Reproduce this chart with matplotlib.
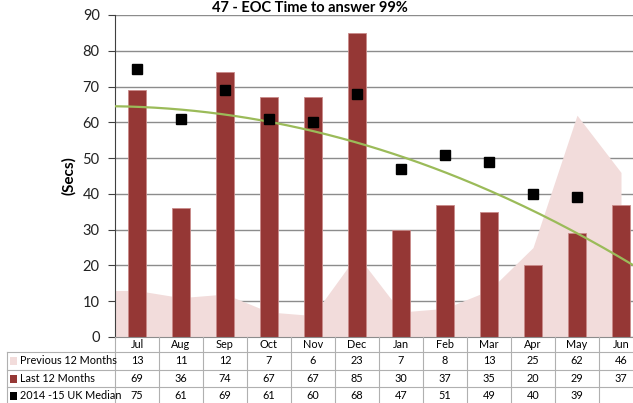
import numpy as np
import matplotlib
matplotlib.use("Agg")
import matplotlib.pyplot as plt
from matplotlib.lines import Line2D
from matplotlib.patches import Rectangle
from matplotlib.transforms import blended_transform_factory

plt.rcParams['font.family'] = ['Lato', 'DejaVu Sans']

months = ["Jul", "Aug", "Sep", "Oct", "Nov", "Dec", "Jan", "Feb", "Mar", "Apr", "May", "Jun"]
previous_12 = [13, 11, 12, 7, 6, 23, 7, 8, 13, 25, 62, 46]
last_12 = [69, 36, 74, 67, 67, 85, 30, 37, 35, 20, 29, 37]
uk_median = [75, 61, 69, 61, 60, 68, 47, 51, 49, 40, 39, None]

series_names = ["Previous 12 Months", "Last 12 Months", "2014 -15 UK Median"]
title = "47 - EOC Time to answer 99%"

area_color = "#F2DCDB"
bar_color = "#953735"
trend_color = "#9BBB59"
grid_color = "#8C8C8C"
table_line = "#B0B0B0"

W, H = 633, 403
fig = plt.figure(figsize=(W / 100, H / 100), dpi=100)


def fy(py):
    return 1 - py / H


def fx(px):
    return px / W


ax = fig.add_axes([fx(115), fy(337), 528 / W, (337 - 15) / H])
x = np.arange(len(months))
ax.set_xlim(-0.5, len(months) - 0.5)
ax.set_ylim(0, 90)

# area series: flat from the plot edge to the first category, then point to point
xl = ax.get_xlim()
ax_area_x = np.concatenate([[xl[0]], x])
ax_area_y = np.concatenate([[previous_12[0]], previous_12])
ax.fill_between(ax_area_x, 0, ax_area_y, color=area_color, linewidth=0, zorder=1)

ax.bar(x, last_12, width=0.41, color=bar_color, edgecolor="#C98B8A", linewidth=0.6, zorder=2)

# quadratic trendline of the last 12 months, spanning the full axis
coef = np.polyfit(x, last_12, 2)
tx = np.linspace(xl[0], xl[1], 200)
ax.plot(tx, np.polyval(coef, tx), color=trend_color, linewidth=1.6, zorder=3)

mx = [i for i, v in enumerate(uk_median) if v is not None]
my = [v for v in uk_median if v is not None]
ax.plot(mx, my, linestyle="none", marker="s", markersize=7.5, color="black", zorder=4)

ax.set_yticks(np.arange(0, 91, 10))
ax.yaxis.grid(True, color=grid_color, linewidth=1.0)
ax.set_axisbelow(True)
ax.set_xticks([])
for s in ["top", "right"]:
    ax.spines[s].set_visible(False)
ax.spines["left"].set_color("#404040")
ax.spines["bottom"].set_color(grid_color)
ax.tick_params(axis="y", length=5, width=0.8, color="#404040", pad=6, labelsize=10.5, labelcolor="#222222")
ax.set_ylabel("(Secs)", fontsize=11, fontweight="bold", labelpad=5)

fig.text(fx(310), fy(11.5), title, ha="center", va="baseline", fontsize=10.5, fontweight="bold")

# data table under the axis
tr = blended_transform_factory(ax.transData, fig.transFigure)
row_edges = [337, 352, 370, 387, 404]
for k in range(len(months) + 1):
    fig.add_artist(Line2D([k - 0.5, k - 0.5], [fy(337), fy(404)], transform=tr,
                          color=table_line, linewidth=0.8))
for py in row_edges[1:4]:
    fig.add_artist(Line2D([fx(7), fx(650)], [fy(py), fy(py)], transform=fig.transFigure,
                          color=table_line, linewidth=0.8))
fig.add_artist(Line2D([fx(7), fx(7)], [fy(352), fy(404)], transform=fig.transFigure,
                      color=table_line, linewidth=0.8))

fs = 7.8
for i, m in enumerate(months):
    fig.text(i, fy(344.5), m, transform=tr, ha="center", va="center", fontsize=fs)

rows = [previous_12, last_12, uk_median]
key_colors = [area_color, bar_color, "black"]
for r, (vals, name, kc) in enumerate(zip(rows, series_names, key_colors)):
    yc = (row_edges[r + 1] + row_edges[r + 2]) / 2
    fig.add_artist(Rectangle((fx(10), fy(yc + 4)), 7 / W, 8 / H, transform=fig.transFigure,
                             facecolor=kc, edgecolor="none"))
    fig.text(fx(19.5), fy(yc), name, ha="left", va="center", fontsize=fs)
    for i, v in enumerate(vals):
        if v is None:
            continue
        fig.text(i, fy(yc), f"{v}", transform=tr, ha="center", va="center", fontsize=fs)

fig.savefig("out.png", dpi=100)
